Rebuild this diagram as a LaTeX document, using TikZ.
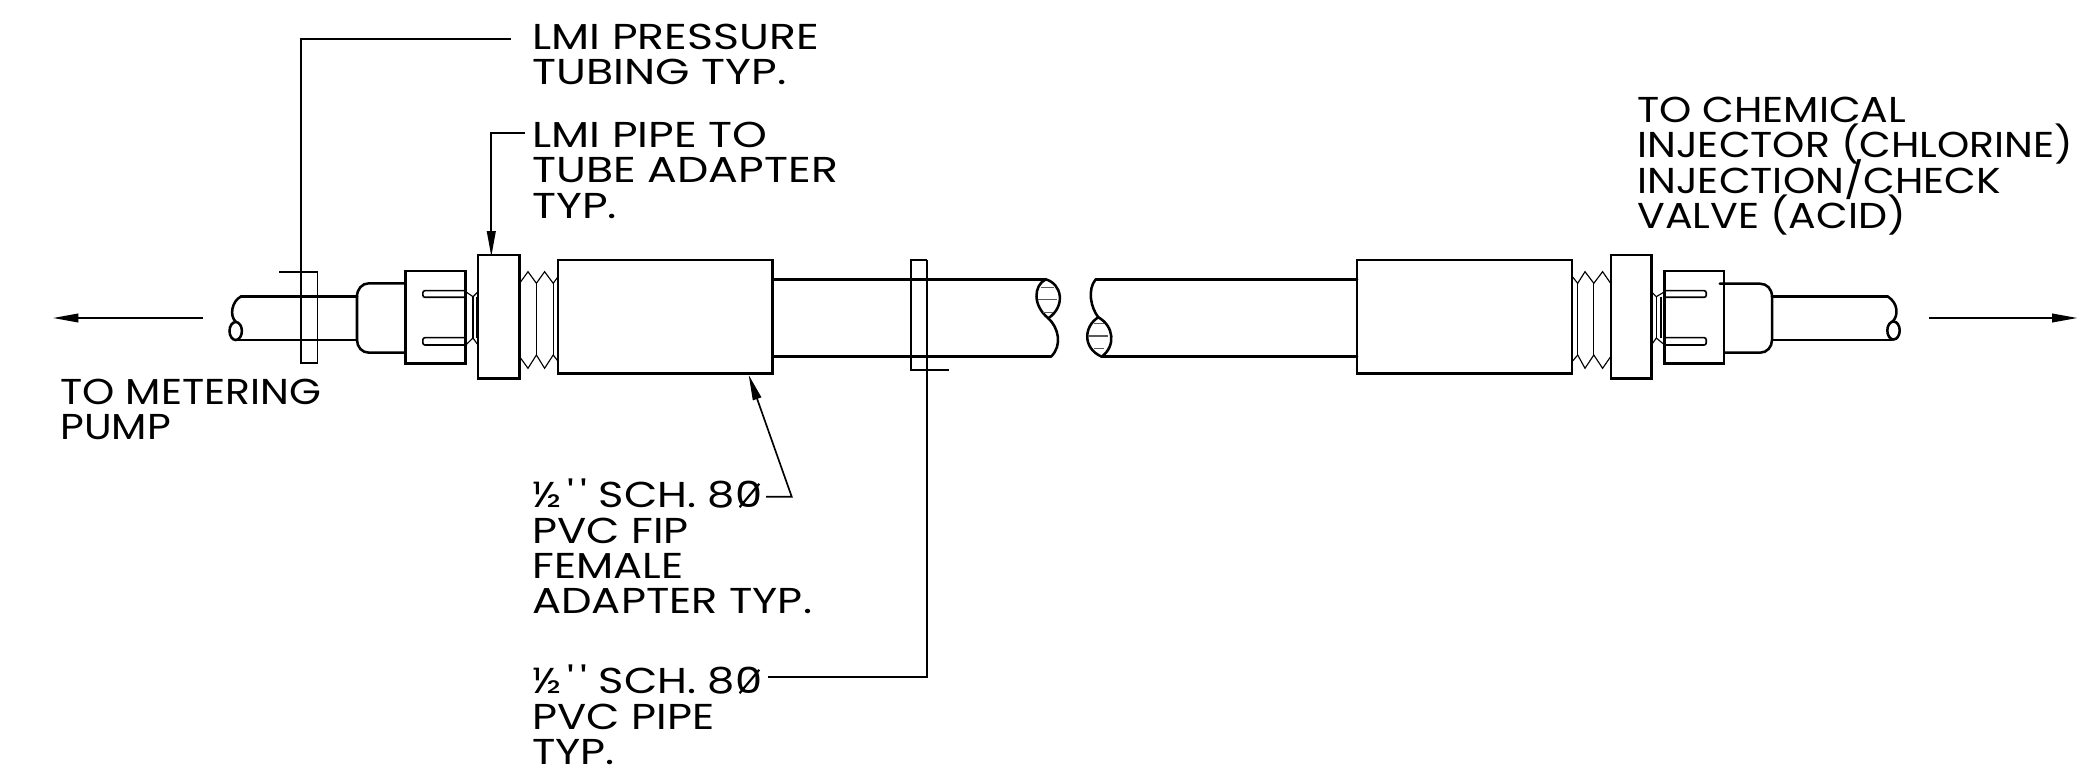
\documentclass[tikz,border=0pt]{standalone}
\usepackage{fontspec}
\usepackage{tikz}
\usetikzlibrary{arrows.meta}
\newfontfamily\callfont[FakeStretch=1.2]{Poppins}
\newfontfamily\narrowcallfont[FakeStretch=1.14]{Poppins}
\newfontfamily\widecallfont[FakeStretch=1.23]{Poppins}
\newcommand{\calltype}{\callfont\fontsize{27}{26.4}\selectfont\setlength{\lineskiplimit}{-20pt}\relax}
\newcommand{\narrowcalltype}{\narrowcallfont\fontsize{27}{26.4}\selectfont\setlength{\lineskiplimit}{-20pt}\relax}
\newcommand{\widecalltype}{\widecallfont\fontsize{27}{26.4}\selectfont\setlength{\lineskiplimit}{-20pt}\relax}
\newcommand{\zeroslash}{\rlap{\kern 0.1em\rotatebox{50}{\rule{0.85em}{0.06em}}}0}
\tikzset{
  outline/.style={line width=1.9pt,line join=miter,line cap=round},
  threadline/.style={line width=0.85pt},
  hatchline/.style={line width=0.9pt,color=black!65},
  leader/.style={line width=1.25pt},
  tip/.style={-{Triangle[length=19pt,width=6.5pt]}},
  calltext/.style={anchor=north west,inner sep=0pt,align=left,font=\calltype}
}
\begin{document}
\begin{tikzpicture}[x=0.75pt,y=0.75pt,yscale=-1,xscale=1]
\useasboundingbox (0,0) rectangle (2096,780);

%Leader ends
\coordinate (pressureEnd) at (511,39);
\coordinate (pressureBend) at (300.7,39);
\coordinate (pressureFoot) at (300.7,363.3);
\coordinate (pipeAdapterEnd) at (525,133.3);
\coordinate (pipeAdapterBend) at (491.3,133.3);
\coordinate (flangeTop) at (491.3,256.5);
\coordinate (femaleEnd) at (766,496.7);
\coordinate (femaleBend) at (791.7,496.7);
\coordinate (femaleTip) at (748.7,375);
\coordinate (pvcEnd) at (768.3,676.7);
\coordinate (pvcBend) at (927.3,676.7);
\coordinate (pvcTop) at (927.3,259.7);

%Left tube with broken end
\draw [outline]  (240.7,296.7) -- (357,296.7) ;
\draw [outline]  (238,340) -- (357,340) ;
\draw [outline]  (240.7,296.7) .. controls (232,301) and (229,316) .. (236,322) ;
\draw [outline]  (235.7,331) ellipse (6.2 and 9) ;
%Left shoulder
\draw [outline]  (405.7,283.3) -- (369,283.3) .. controls (362,283.3) and (357,289) .. (357,296.7) -- (357,340) .. controls (357,347) and (362,352.7) .. (369,352.7) -- (405.7,352.7) ;
%Left nut
\draw [outline]  (405.7,271) rectangle (465.7,363.3) ;
\draw [line width=1.2pt,rounded corners=1.5pt]  (465.7,290.7) -- (422.9,290.7) -- (422.9,297.3) -- (465.7,297.3) ;
\draw [line width=1.2pt,rounded corners=1.5pt]  (465.7,337.7) -- (422.9,337.7) -- (422.9,345) -- (465.7,345) ;
%Left small thread
\draw [threadline]  (465.7,291.7) -- (473,296.7) -- (478,291.7) ;
\draw [threadline]  (465.7,345) -- (473,338) -- (478,345) ;
\draw [threadline]  (473,296.7) -- (473,338) ;
\draw [threadline]  (476.5,296.7) -- (476.5,338) ;
%Left flange
\draw [outline]  (478.2,255) rectangle (519.3,378.3) ;
%Left large thread
\draw [threadline]  (519.8,283) -- (528,271.7) -- (536.4,283.3) -- (544.6,271.7) -- (553.2,283.3) -- (558.6,276) ;
\draw [threadline]  (519.8,357) -- (528,368.3) -- (536.4,355) -- (544.6,368.3) -- (553.2,355) -- (558.6,362) ;
\draw [threadline]  (536.4,283.3) -- (536.4,355) ;
\draw [threadline]  (553.2,283.3) -- (553.2,355) ;
%Left adapter
\draw [outline]  (558,260) rectangle (772.7,373.3) ;
%Left pipe with broken end
\draw [outline]  (772.7,279.3) -- (1045.7,279.3) ;
\draw [outline]  (772.7,356.7) -- (1051,356.7) ;
\draw [outline]  (1045.7,279.3) .. controls (1033,286) and (1033,306) .. (1048.3,318.3) ;
\draw [outline]  (1045.7,279.3) .. controls (1062,284) and (1066,306) .. (1048.3,318.3) ;
\draw [outline]  (1048.3,318.3) .. controls (1058,327) and (1063,345) .. (1051,356.7) ;
\draw [hatchline]  (1041,287.7) -- (1054,287.7) ;
\draw [hatchline]  (1038,299.3) -- (1057,299.3) ;
\draw [hatchline]  (1043,312.3) -- (1053,312.3) ;
%Pipe band
\draw [leader]  (927.3,259.7) -- (911,259.7) -- (911,370) -- (949,370) ;
%Right pipe with broken end
\draw [outline]  (1095.7,279.3) -- (1357,279.3) ;
\draw [outline]  (1101.7,356.7) -- (1357,356.7) ;
\draw [outline]  (1095.7,279.3) .. controls (1087,290) and (1091,308) .. (1098.3,317.3) ;
\draw [outline]  (1098.3,317.3) .. controls (1084,326) and (1082,348) .. (1101.7,356.7) ;
\draw [outline]  (1098.3,317.3) .. controls (1114,326) and (1116,346) .. (1101.7,356.7) ;
\draw [hatchline]  (1094,323.3) -- (1104,323.3) ;
\draw [hatchline]  (1089,336) -- (1108,336) ;
\draw [hatchline]  (1094,348.3) -- (1104,348.3) ;
%Right adapter
\draw [outline]  (1356.9,260) rectangle (1571.8,373.3) ;
%Right large thread
\draw [threadline]  (1571.8,276) -- (1577.7,283.3) -- (1585,271.7) -- (1593.8,283.3) -- (1602.6,271.7) -- (1610.4,283) ;
\draw [threadline]  (1571.8,362) -- (1577.7,355) -- (1585,368.3) -- (1593.8,355) -- (1602.6,368.3) -- (1610.4,357) ;
\draw [threadline]  (1577.7,283.3) -- (1577.7,355) ;
\draw [threadline]  (1593.8,283.3) -- (1593.8,355) ;
%Right flange
\draw [outline]  (1610.9,255) rectangle (1651.4,378.3) ;
%Right small thread
\draw [threadline]  (1651.4,291.7) -- (1656.3,296.7) -- (1664.6,291.7) ;
\draw [threadline]  (1651.4,345) -- (1656.3,338) -- (1664.6,345) ;
\draw [threadline]  (1656.3,296.7) -- (1656.3,338) ;
\draw [threadline]  (1661,296.7) -- (1661,338) ;
%Right nut
\draw [outline]  (1664.6,271) rectangle (1724.2,363.3) ;
\draw [line width=1.2pt,rounded corners=1.5pt]  (1664.6,290.7) -- (1706.2,290.7) -- (1706.2,297.3) -- (1664.6,297.3) ;
\draw [line width=1.2pt,rounded corners=1.5pt]  (1664.6,337.7) -- (1706.2,337.7) -- (1706.2,345) -- (1664.6,345) ;
%Right shoulder
\draw [outline]  (1719.8,283.7) -- (1760,283.7) .. controls (1767,283.7) and (1772,289) .. (1772,296.7) -- (1772,340) .. controls (1772,347) and (1767,352.7) .. (1760,352.7) -- (1724.2,352.7) ;
%Right tube with broken end
\draw [outline]  (1772,296.7) -- (1888,296.7) ;
\draw [outline]  (1772,340) -- (1892,340) ;
\draw [outline]  (1888,296.7) .. controls (1898,303) and (1899,316) .. (1892,322) ;
\draw [outline]  (1893.5,330.5) ellipse (6.2 and 9) ;

%Straight Lines
\draw [line width=1.25pt,tip]  (202.5,318) -- (53,318) ;
\draw [line width=1.25pt,tip]  (1929,318) -- (2077.4,318) ;
%Tube band and its leader
\draw [leader]  (pressureEnd) -- (pressureBend) -- (pressureFoot) -- (317.5,363.3) -- (317.5,272.3) -- (279,272.3) ;
%Adapter leader
\draw [leader,tip]  (pipeAdapterEnd) -- (pipeAdapterBend) -- (flangeTop) ;
%Female adapter leader
\draw [leader,tip]  (femaleEnd) -- (femaleBend) -- (femaleTip) ;
%Pipe leader
\draw [leader]  (pvcEnd) -- (pvcBend) -- (pvcTop) ;

% Text Node
\node [calltext,font=\widecalltype] (pressureText) at (532,24) {LMI PRESSURE\\TUBING TYP.};
% Text Node
\node [calltext,font=\widecalltype] (pipeAdapterText) at (532,122) {LMI PIPE TO\\TUBE ADAPTER\\TYP.};
% Text Node
\node [calltext,font=\narrowcalltype] (pumpText) at (60,379) {TO METERING\\PUMP};
% Text Node
\node [calltext,font=\narrowcalltype] (injectorText) at (1637,97) {TO CHEMICAL\\INJECTOR (CHLORINE)\\INJECTION/CHECK\\VALVE (ACID)};
% Text Node
\node [calltext] (femaleText) at (532,479) {½\,'\,' SCH. 8\zeroslash\\PVC FIP\\FEMALE\\ADAPTER TYP.};
% Text Node
\node [calltext] (pvcText) at (532,665) {½\,'\,' SCH. 8\zeroslash\\PVC PIPE\\TYP.};

\end{tikzpicture}
\end{document}
